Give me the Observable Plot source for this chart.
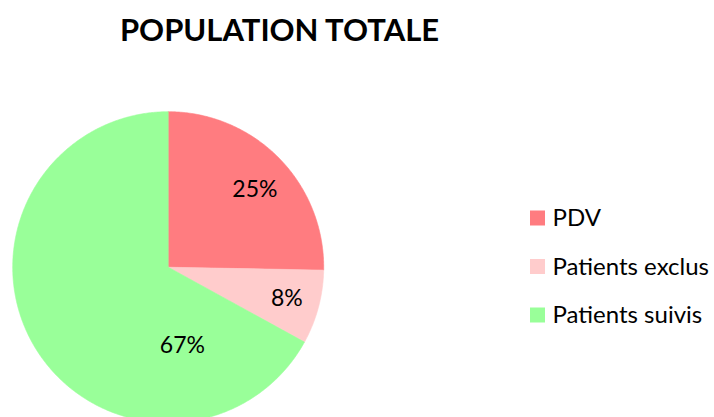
<!DOCTYPE html>
<html>
<head>
<meta charset="utf-8">
<script src="https://cdn.jsdelivr.net/npm/d3@7"></script>
<script src="https://cdn.jsdelivr.net/npm/@observablehq/plot@0.6"></script>
<style>
  html, body { margin: 0; padding: 0; background: #fff; overflow: hidden; }
  svg { display: block; }
</style>
</head>
<body>
<div id="chart"></div>
<script>
// ---- data ----
const title = "POPULATION TOTALE";
const categories = ["PDV", "Patients exclus", "Patients suivis"];
const values = [25.3, 7.7, 67.0];
const labels = ["25%", "8%", "67%"];
const colors = ["#FF7C80", "#FFCCCC", "#99FF99"];

// ---- layout ----
const W = 714, H = 417;
const cx = 167.7, cy = 266.7, R = 155.5;
const labelLayout = [
  {frac: 0.75, angle: 48},
  {frac: 0.79, angle: null},
  {frac: 0.51, angle: 169.7}
];
const legend = {x: 530, size: 15, y0: 218, step: 48.5, textX: 552};
const font = "Lato, 'Open Sans', sans-serif";

const total = d3.sum(values);
const slices = [];
let acc = 0;
values.forEach((v, i) => {
  const a0 = acc / total * 2 * Math.PI;
  acc += v;
  const a1 = acc / total * 2 * Math.PI;
  slices.push({category: categories[i], label: labels[i], a0, a1, i});
});

const polyPoints = [];
for (const s of slices) {
  polyPoints.push({category: s.category, x: cx, y: cy});
  const n = Math.max(2, Math.ceil((s.a1 - s.a0) / (Math.PI / 360)));
  for (let k = 0; k <= n; k++) {
    const a = s.a0 + (s.a1 - s.a0) * k / n;
    polyPoints.push({category: s.category, x: cx + R * Math.sin(a), y: cy - R * Math.cos(a)});
  }
  polyPoints.push({category: s.category, x: cx, y: cy});
}

const labelPts = slices.map(s => {
  const lay = labelLayout[s.i];
  const a = lay.angle != null ? lay.angle * Math.PI / 180 : (s.a0 + s.a1) / 2;
  return {label: s.label, x: cx + lay.frac * R * Math.sin(a), y: cy - lay.frac * R * Math.cos(a)};
});

const legendRows = categories.map((c, i) => ({
  category: c,
  y: legend.y0 + i * legend.step
}));

const chart = Plot.plot({
  width: W,
  height: H,
  margin: 0,
  style: {fontFamily: font, background: "#fff"},
  x: {domain: [0, W], range: [0, W], axis: null},
  y: {domain: [0, H], range: [0, H], axis: null},
  color: {type: "ordinal", domain: categories, range: colors},
  marks: [
    Plot.line(polyPoints, {x: "x", y: "y", z: "category", fill: "category", stroke: "category", strokeWidth: 0.6, curve: "linear-closed"}),
    Plot.text(labelPts, {x: "x", y: "y", text: "label", fontSize: 23, fill: "#000", textAnchor: "middle", lineAnchor: "middle"}),
    Plot.rect(legendRows, {x1: legend.x, x2: legend.x + legend.size, y1: d => d.y - legend.size / 2, y2: d => d.y + legend.size / 2, fill: "category"}),
    Plot.text(legendRows, {x: legend.textX, y: "y", text: "category", fontSize: 24, fill: "#000", textAnchor: "start", lineAnchor: "middle"}),
    Plot.text([title], {x: 279, y: 31, text: d => d, fontSize: 31, fontWeight: "bold", fill: "#000", textAnchor: "middle", lineAnchor: "middle"})
  ]
});
document.getElementById("chart").appendChild(chart);
</script>
</body>
</html>
